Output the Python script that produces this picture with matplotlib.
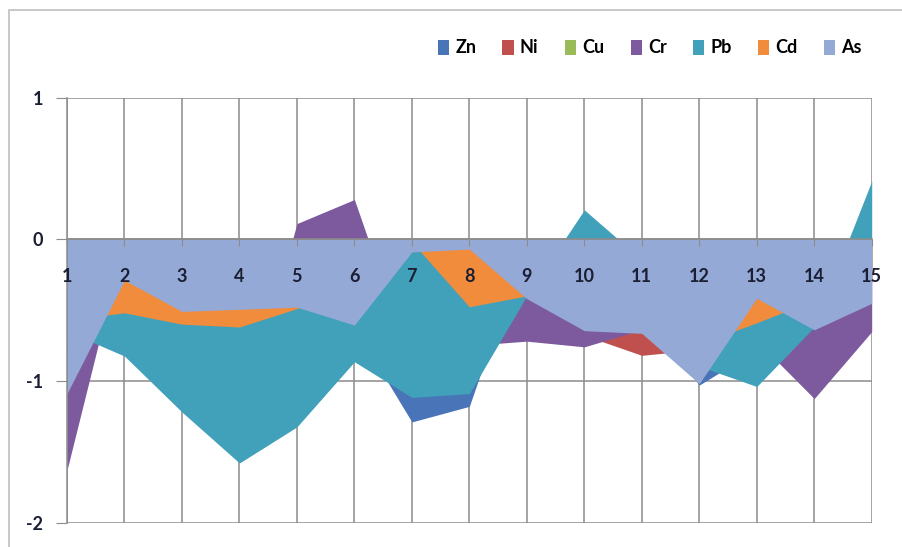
import matplotlib
matplotlib.use('Agg')
import matplotlib.pyplot as plt
from matplotlib.patches import Patch, Rectangle

# ---- data ----
categories = list(range(1, 16))
series_names = ['Zn', 'Ni', 'Cu', 'Cr', 'Pb', 'Cd', 'As']
zn = [-0.9, -0.6, -0.8, -1.1, -0.9, -0.62, -1.29, -1.18, 0.0, -0.5, -0.5, -1.03, -0.78, -0.5, -0.3]
ni = [-0.8, -0.5, -0.7, -1.0, -0.8, -0.5, -0.9, -0.8, -0.6, -0.679, -0.82, -0.78, -0.6, -0.5, -0.3]
cu = [-0.7, -0.4, -0.5, -0.8, -0.7, -0.4, -0.6, -0.6, -0.5, -0.5, -0.5, -0.6, -0.5, -0.4, -0.2]
cr = [-1.63, 0.0, -0.6, -1.36, 0.11, 0.28, -0.89, -0.75, -0.72, -0.76, -0.64, -0.9, -0.717, -1.125, -0.653]
pb = [-0.65, -0.825, -1.22, -1.58, -1.325, -0.865, -1.117, -1.09, -0.40, 0.207, -0.145, -0.897, -1.04, -0.62, 0.41]
cd = [-0.57, -0.52, -0.60, -0.62, -0.49, -0.3, -0.02, -0.477, -0.40, -0.3, -0.4, -0.74, -0.59, -0.43, -0.3]
as_ = [-1.09, -0.29, -0.51, -0.495, -0.48, -0.606, -0.09, -0.07, -0.42, -0.646, -0.665, -1.02, -0.417, -0.64, -0.453]
yticks = [-2, -1, 0, 1]
ytick_labels = ['-2', '-1', '0', '1']

series_values = [zn, ni, cu, cr, pb, cd, as_]
colors = ['#4A74B8', '#C0504D', '#9BBB59', '#7D5A9E', '#42A1BA', '#F08C3C', '#94A9D5']

FONT = 'Lato'
W, H = 903, 547
fig = plt.figure(figsize=(W / 100, H / 100), dpi=100)

# outer chart border (right and bottom edges lie outside the picture)
fig.patches.append(Rectangle((9 / W, -0.05), 1.0, 1.05 - 10 / H,
                             transform=fig.transFigure, fill=False,
                             edgecolor='#BFBFBF', linewidth=1.2))

left, right, top, bottom = 67, 871.7, 97.5, 522.5
ax = fig.add_axes([left / W, 1 - bottom / H, (right - left) / W, (bottom - top) / H])
ax.set_xlim(categories[0], categories[-1])
ax.set_ylim(yticks[0], yticks[-1])
ax.patch.set_alpha(0)

grid_color = '#8C8C8C'
ax.vlines(categories, yticks[0], yticks[-1], colors=grid_color, linewidth=1.1, zorder=0)
ax.hlines(yticks, categories[0], categories[-1], colors=grid_color, linewidth=1.1, zorder=0)

for vals, c in zip(series_values, colors):
    ax.fill_between(categories, 0, vals, color=c, linewidth=0, zorder=1)

for s in ['top', 'right']:
    ax.spines[s].set_visible(False)
ax.spines['bottom'].set_position(('data', 0))
ax.spines['bottom'].set_color(grid_color)
ax.spines['bottom'].set_linewidth(1.1)
ax.spines['left'].set_color(grid_color)
ax.spines['left'].set_linewidth(1.1)
ax.xaxis.set_zorder(3)
ax.yaxis.set_zorder(3)

ax.set_xticks(categories)
ax.set_xticklabels([str(c) for c in categories], fontfamily=FONT, fontweight='bold')
ax.tick_params(axis='x', direction='out', length=5, color=grid_color, pad=15.5,
               labelsize=13, labelcolor='#1B1F33')
ax.set_yticks(yticks)
ax.set_yticklabels(ytick_labels, fontfamily=FONT, fontweight='bold')
ax.tick_params(axis='y', direction='out', length=8, color=grid_color, pad=9,
               labelsize=13, labelcolor='#1B1F33')

handles = [Patch(facecolor=c, edgecolor='none') for c in colors]
fig.legend(handles, series_names, loc='center right',
           bbox_to_anchor=(862 / W, 1 - 48 / H), ncol=7, frameon=False,
           handlelength=0.62, handleheight=0.95, handletextpad=0.35,
           columnspacing=1.45, borderaxespad=0, borderpad=0,
           prop={'family': FONT, 'weight': 'bold', 'size': 13})

fig.savefig('out.png', dpi=100)
